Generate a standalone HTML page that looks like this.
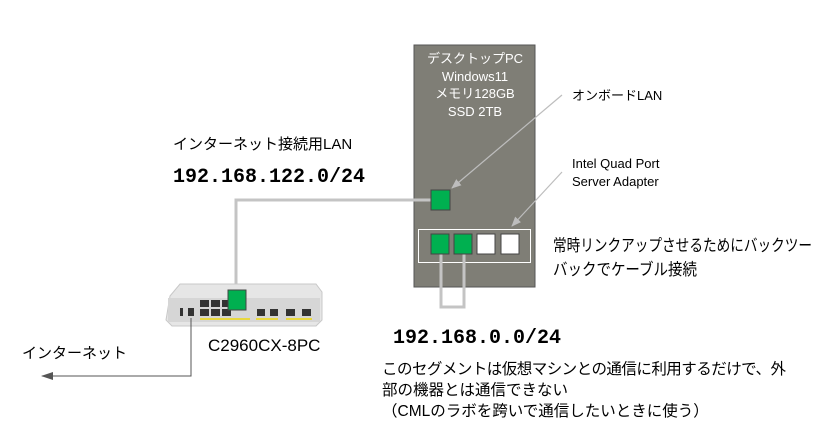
<!DOCTYPE html>
<html><head><meta charset="utf-8"><style>
html,body{margin:0;padding:0;background:#fff;width:832px;height:437px;overflow:hidden}
svg text{font-family:"Liberation Sans","Noto Sans CJK JP",sans-serif;}
.m{font-family:"Liberation Mono","Noto Sans CJK JP",monospace !important;font-weight:bold}
</style></head><body>
<svg width="832" height="437" viewBox="0 0 832 437" xmlns="http://www.w3.org/2000/svg">
<defs>
<marker id="ag" markerWidth="10" markerHeight="8" refX="9" refY="4" orient="auto" markerUnits="userSpaceOnUse"><path d="M0,0 L10,4 L0,8 z" fill="#bdbdbd"/></marker>
<marker id="ad" markerWidth="12" markerHeight="8" refX="11" refY="4" orient="auto" markerUnits="userSpaceOnUse"><path d="M0,0 L12,4 L0,8 z" fill="#555"/></marker>
</defs>
<rect x="414" y="45" width="121" height="242" fill="#7f7e76" stroke="#555" stroke-width="1"/>
<g fill="#fff" font-size="13" text-anchor="middle">
<text x="475" y="63">デスクトップPC</text>
<text x="475" y="81">Windows11</text>
<text x="475" y="98">メモリ128GB</text>
<text x="475" y="116">SSD 2TB</text>
</g>
<rect x="418.5" y="229.5" width="112" height="33" fill="none" stroke="#fff" stroke-width="1"/>
<polyline points="431,200 236,200 236,292" fill="none" stroke="#c4c4c4" stroke-width="3"/>
<polyline points="441,250 441,307 464,307 464,250" fill="none" stroke="#c4c4c4" stroke-width="3"/>
<rect x="431" y="190" width="19" height="20" fill="#00b050" stroke="#444"/>
<rect x="431" y="234" width="18" height="20" fill="#00b050" stroke="#444"/>
<rect x="454" y="234" width="18" height="20" fill="#00b050" stroke="#444"/>
<rect x="477" y="234" width="18" height="20" fill="#fff" stroke="#444"/>
<rect x="501" y="234" width="18" height="20" fill="#fff" stroke="#444"/>
<line x1="562" y1="95" x2="452" y2="188" stroke="#bdbdbd" stroke-width="1.2" marker-end="url(#ag)"/>
<line x1="562" y1="172" x2="512" y2="226" stroke="#bdbdbd" stroke-width="1.2" marker-end="url(#ag)"/>
<path d="M170,296 L180,284 L316,284 L322,292 L322,320 L316,326 L172,326 L166,320 Z" fill="#e6e6e6" stroke="#c8c8c8"/>
<rect x="168" y="298" width="152" height="24" fill="#d6d6d6"/>
<g fill="#333">
<rect x="200" y="300" width="9" height="7"/><rect x="211" y="300" width="9" height="7"/><rect x="222" y="300" width="9" height="7"/>
<rect x="200" y="309" width="9" height="7"/><rect x="211" y="309" width="9" height="7"/><rect x="222" y="309" width="9" height="7"/>
<rect x="257" y="309" width="8" height="7"/><rect x="270" y="309" width="8" height="7"/><rect x="286" y="309" width="9" height="7"/><rect x="302" y="309" width="9" height="7"/>
<rect x="188" y="308" width="6" height="8"/><rect x="180" y="308" width="3" height="8"/>
</g>
<rect x="200" y="318" width="50" height="2" fill="#e8d840"/><rect x="256" y="318" width="22" height="2" fill="#e8d840"/><rect x="286" y="318" width="26" height="2" fill="#e8d840"/>
<rect x="228" y="290" width="18" height="20" fill="#00b050" stroke="#444"/>
<polyline points="191,318 191,376 42,376" fill="none" stroke="#555" stroke-width="1" marker-end="url(#ad)"/>
<g fill="#000">
<text x="572" y="100" font-size="13">オンボードLAN</text>
<text x="572" y="168" font-size="13">Intel Quad Port</text>
<text x="572" y="186" font-size="13">Server Adapter</text>
<text x="553" y="251" font-size="16.5" textLength="259" lengthAdjust="spacingAndGlyphs">常時リンクアップさせるためにバックツー</text>
<text x="553" y="275" font-size="16.5" textLength="144" lengthAdjust="spacingAndGlyphs">バックでケーブル接続</text>
<text x="173" y="149" font-size="15">インターネット接続用LAN</text>
<text class="m" x="173" y="182" font-size="20">192.168.122.0/24</text>
<text x="208" y="351" font-size="17">C2960CX-8PC</text>
<text x="22" y="358" font-size="15">インターネット</text>
<text class="m" x="393" y="343" font-size="20">192.168.0.0/24</text>
<text x="382" y="374" font-size="15.5" textLength="404">このセグメントは仮想マシンとの通信に利用するだけで、外</text>
<text x="382" y="395" font-size="15.5">部の機器とは通信できない</text>
<text x="382" y="416" font-size="15.5">（CMLのラボを跨いで通信したいときに使う）</text>
</g>
</svg>
</body></html>
